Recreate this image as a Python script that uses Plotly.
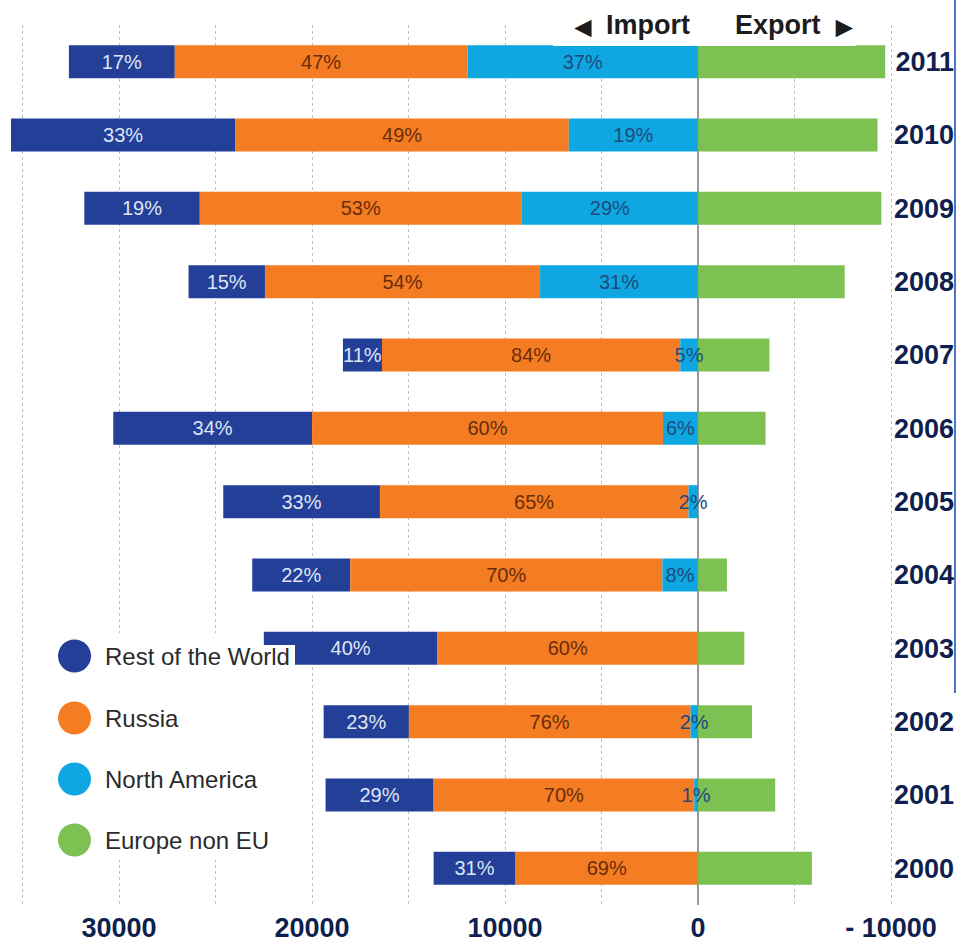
import plotly.graph_objects as go

# Import / export by partner region, 2000-2011
years = ["2011", "2010", "2009", "2008", "2007", "2006",
         "2005", "2004", "2003", "2002", "2001", "2000"]
import_total = [32600, 35600, 31800, 26400, 18400, 30300,
                24600, 23100, 22500, 19400, 19300, 13700]
export_total = [9700, 9300, 9500, 7600, 3700, 3500,
                0, 1500, 2400, 2800, 4000, 5900]
share_rest = [17, 33, 19, 15, 11, 34, 33, 22, 40, 23, 29, 31]
share_russia = [47, 49, 53, 54, 84, 60, 65, 70, 60, 76, 70, 69]
share_na = [37, 19, 29, 31, 5, 6, 2, 8, 0, 2, 1, 0]

x_ticks = [35000, 30000, 25000, 20000, 15000, 10000, 5000, 0, -5000, -10000]
x_tick_text = ["", "30000", "", "20000", "", "10000", "", "0", "", "- 10000"]

legend_names = ["Rest of the World", "Russia", "North America", "Europe non EU"]
C_REST, C_RUS, C_NA, C_EU = "#233f97", "#f47c22", "#0fa7e2", "#7cc152"
NAVY = "#0f1f4f"
FONT = "Liberation Sans, Arial, sans-serif"


def part(shares):
    out = []
    for i, s in enumerate(shares):
        tot = share_rest[i] + share_russia[i] + share_na[i]
        out.append(import_total[i] * s / tot)
    return out


def labels(shares):
    return [f"{s}%" if s > 0 else "" for s in shares]


na_val = part(share_na)
rus_val = part(share_russia)
rest_val = part(share_rest)
rus_base = na_val
rest_base = [a + b for a, b in zip(na_val, rus_val)]

fig = go.Figure()
common = dict(orientation="h", textposition="inside", insidetextanchor="middle",
              textangle=0, constraintext="none", showlegend=False,
              marker_line_width=0, cliponaxis=False)

# exports drawn first so the import labels can sit on top of them
fig.add_trace(go.Bar(y=years, x=[-v for v in export_total], base=0, name=legend_names[3],
                     marker_color=C_EU, orientation="h", showlegend=False,
                     marker_line_width=0))
# imports stacked outward from zero: North America, Russia, Rest of the World
fig.add_trace(go.Bar(y=years, x=rest_val, base=rest_base, name=legend_names[0],
                     marker_color=C_REST, text=labels(share_rest),
                     textfont=dict(family=FONT, size=20, color="#dfe5f4"), **common))
fig.add_trace(go.Bar(y=years, x=rus_val, base=rus_base, name=legend_names[1],
                     marker_color=C_RUS, text=labels(share_russia),
                     textfont=dict(family=FONT, size=20, color="#6a2d0a"), **common))
fig.add_trace(go.Bar(y=years, x=na_val, base=0, name=legend_names[2],
                     marker_color=C_NA, text=labels(share_na),
                     textfont=dict(family=FONT, size=20, color="#1f4a7c"), **common))

W, H = 957, 942
TOP, BOTTOM = 25, 905


def px(x):
    return x / W


def py(y):
    return (BOTTOM - y) / (BOTTOM - TOP)


shapes = []
# header box
shapes.append(dict(type="rect", xref="paper", yref="paper", x0=px(553), x1=px(856),
                   y0=py(46), y1=py(0), fillcolor="white", line_width=0, layer="above"))
# legend box
shapes.append(dict(type="rect", xref="paper", yref="paper", x0=px(45), x1=px(295),
                   y0=py(860), y1=py(645), fillcolor="white", line_width=0, layer="above"))
shapes.append(dict(type="rect", xref="paper", yref="paper", x0=px(45), x1=px(262),
                   y0=py(646), y1=py(633), fillcolor="white", line_width=0, layer="above"))
# right border line
shapes.append(dict(type="line", xref="paper", yref="paper", x0=px(955), x1=px(955),
                   y0=py(693), y1=py(0), line=dict(color="#4f74c8", width=2), layer="above"))

head_font = dict(family=FONT, size=27, color="#1c1c1c", weight="bold")
annotations = [
    dict(xref="paper", yref="paper", x=px(692), y=py(25), xanchor="right", yanchor="middle",
         text="<span style='font-size:21px'>◀</span>  Import", showarrow=False,
         font=head_font),
    dict(xref="paper", yref="paper", x=px(733), y=py(25), xanchor="left", yanchor="middle",
         text="Export  <span style='font-size:21px'>▶</span>", showarrow=False,
         font=head_font),
]

legend_y = [656, 718, 779, 840]
legend_colors = [C_REST, C_RUS, C_NA, C_EU]
for name, col, yy in zip(legend_names, legend_colors, legend_y):
    shapes.append(dict(type="circle", xref="paper", yref="paper",
                       x0=px(58), x1=px(91), y0=py(yy + 16.5), y1=py(yy - 16.5),
                       fillcolor=col, line_width=0, layer="above"))
    annotations.append(dict(xref="paper", yref="paper", x=px(103), y=py(yy),
                            xanchor="left", yanchor="middle", text=name, showarrow=False,
                            font=dict(family=FONT, size=24, color="#2b2b2b")))

fig.update_layout(
    width=W, height=H,
    margin=dict(l=0, r=0, t=TOP, b=H - BOTTOM, pad=0),
    paper_bgcolor="white", plot_bgcolor="white",
    barmode="overlay", bargap=0.55,
    showlegend=False,
    shapes=shapes, annotations=annotations,
    xaxis=dict(range=[36170, -13420], tickvals=x_ticks, ticktext=x_tick_text,
               showgrid=True, gridcolor="#bdbdbd", griddash="dot", gridwidth=1,
               zeroline=True, zerolinecolor="#9a9a9a", zerolinewidth=1.5,
               ticks="", showline=False, ticklabelstandoff=4,
               tickfont=dict(family=FONT, size=27, color=NAVY, weight="bold")),
    yaxis=dict(categoryorder="array", categoryarray=years, autorange="reversed",
               side="right", ticklabelposition="inside", ticks="",
               showgrid=False, zeroline=False, showline=False,
               tickfont=dict(family=FONT, size=27, color=NAVY, weight="bold")),
)

fig.write_html("out.html")
